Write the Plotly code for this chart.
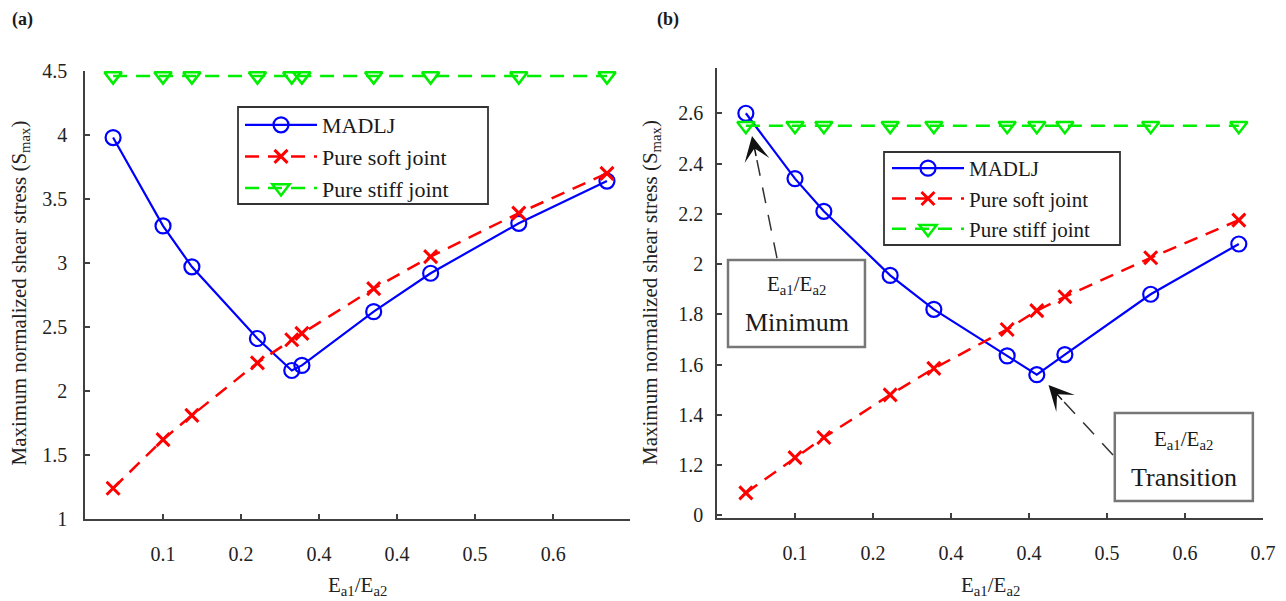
import plotly.graph_objects as go

FONT = "Liberation Serif"

# ---------------- data: panel (a) ----------------
x_a = [0.036, 0.100, 0.137, 0.221, 0.265, 0.278, 0.370, 0.443, 0.556, 0.669]
madlj_a = [3.98, 3.29, 2.97, 2.41, 2.16, 2.20, 2.62, 2.92, 3.31, 3.64]
soft_a = [1.24, 1.62, 1.81, 2.22, 2.40, 2.45, 2.80, 3.05, 3.39, 3.70]
stiff_a = [4.46, 4.46, 4.46, 4.46, 4.46, 4.46, 4.46, 4.46, 4.46, 4.46]

# ---------------- data: panel (b) ----------------
x_b = [0.037, 0.100, 0.137, 0.222, 0.278, 0.372, 0.410, 0.446, 0.556, 0.669]
madlj_b = [2.60, 2.34, 2.21, 1.955, 1.82, 1.635, 1.56, 1.64, 1.88, 2.08]
soft_b = [1.09, 1.23, 1.31, 1.48, 1.585, 1.74, 1.815, 1.87, 2.025, 2.175]
stiff_b = [2.55, 2.55, 2.55, 2.55, 2.55, 2.55, 2.55, 2.55, 2.55, 2.55]

series_names = ["MADLJ", "Pure soft joint", "Pure stiff joint"]

# ---------------- tick labels (as printed in the figure) ----------------
xtick_vals_a = [0.1, 0.2, 0.3, 0.4, 0.5, 0.6]
xtick_text_a = ["0.1", "0.2", "0.4", "0.4", "0.5", "0.6"]
xtick_vals_b = [0.1, 0.2, 0.3, 0.4, 0.5, 0.6, 0.7]
xtick_text_b = ["0.1", "0.2", "0.4", "0.4", "0.5", "0.6", "0.7"]
ytick_vals_a = [1, 1.5, 2, 2.5, 3, 3.5, 4, 4.5]
ytick_text_a = ["1", "1.5", "2", "2.5", "3", "3.5", "4", "4.5"]
ytick_vals_b = [1.0, 1.2, 1.4, 1.6, 1.8, 2.0, 2.2, 2.4, 2.6]
ytick_text_b = ["0", "1.2", "1.4", "1.6", "1.8", "2", "2.2", "2.4", "2.6"]

BLUE = "#0000FF"
RED = "#FF0000"
GREEN = "#00EE00"

fig = go.Figure()


def add_panel(x, madlj, soft, stiff, xref, yref, legend):
    fig.add_trace(go.Scatter(
        x=x, y=madlj, name=series_names[0], mode="lines+markers",
        xaxis=xref, yaxis=yref, legend=legend, cliponaxis=False,
        line=dict(color=BLUE, width=2.2),
        marker=dict(symbol="circle-open", size=15, color=BLUE, line=dict(width=2.2, color=BLUE)),
    ))
    fig.add_trace(go.Scatter(
        x=x, y=soft, name=series_names[1], mode="lines+markers",
        xaxis=xref, yaxis=yref, legend=legend, cliponaxis=False,
        line=dict(color=RED, width=2.5, dash="14px,9px"),
        marker=dict(symbol="x-thin", size=13, color=RED, line=dict(width=3, color=RED)),
    ))
    fig.add_trace(go.Scatter(
        x=x, y=stiff, name=series_names[2], mode="lines+markers",
        xaxis=xref, yaxis=yref, legend=legend, cliponaxis=False,
        line=dict(color=GREEN, width=2.5, dash="14px,9px"),
        marker=dict(symbol="triangle-down-open", size=15, color=GREEN, line=dict(width=2.5, color=GREEN)),
    ))


add_panel(x_a, madlj_a, soft_a, stiff_a, "x", "y", "legend")
add_panel(x_b, madlj_b, soft_b, stiff_b, "x2", "y2", "legend2")

W, H = 1286, 601
axis_line = "#404040"
tickfont = dict(family=FONT, size=20, color="#222222")
common = dict(showline=True, linecolor=axis_line, linewidth=1.5, ticks="inside",
              ticklen=5, tickwidth=1.5, tickcolor=axis_line, showgrid=False,
              zeroline=False, tickfont=tickfont, mirror=False, automargin=False)

legend_common = dict(xanchor="left", yanchor="top", borderwidth=0,
                     bgcolor="rgba(0,0,0,0)", itemwidth=72, tracegroupgap=0)

fig.update_layout(
    width=W, height=H, autosize=False,
    font=dict(family=FONT),
    margin=dict(l=0, r=0, t=0, b=0, pad=0),
    paper_bgcolor="white", plot_bgcolor="white",
    showlegend=True,
    xaxis=dict(domain=[85 / W, 629.6 / W], range=[0, 0.698], anchor="y",
               tickvals=xtick_vals_a, ticktext=xtick_text_a, ticklabelstandoff=16, **common),
    yaxis=dict(domain=[1 - 519 / H, 1 - 71 / H], range=[1, 4.5], anchor="x",
               tickvals=ytick_vals_a, ticktext=ytick_text_a, ticklabelstandoff=12, **common),
    xaxis2=dict(domain=[717 / W, 1263 / W], range=[0, 0.7], anchor="y2",
                tickvals=xtick_vals_b, ticktext=xtick_text_b, ticklabelstandoff=16, **common),
    yaxis2=dict(domain=[1 - 518 / H, 1 - 68 / H], range=[0.99, 2.78], anchor="x2",
                tickvals=ytick_vals_b, ticktext=ytick_text_b, ticklabelstandoff=8, **common),
    legend=dict(x=240 / W, y=1 - 104 / H, font=dict(family=FONT, size=22, color="#1a1a1a"),
                **legend_common),
    legend2=dict(x=887 / W, y=1 - 148 / H, font=dict(family=FONT, size=21, color="#1a1a1a"),
                 **legend_common),
)

ann = []
# panel labels
ann.append(dict(text="<b>(a)</b>", x=10 / W, y=1 - 20 / H, xref="paper", yref="paper",
                xanchor="left", yanchor="middle", showarrow=False,
                font=dict(family=FONT, size=18, color="#1a1a1a")))
ann.append(dict(text="<b>(b)</b>", x=655 / W, y=1 - 20 / H, xref="paper", yref="paper",
                xanchor="left", yanchor="middle", showarrow=False,
                font=dict(family=FONT, size=18, color="#1a1a1a")))
# axis titles
title_font = dict(family=FONT, size=21, color="#222222")
xtitle = "E<sub>a1</sub>/E<sub>a2</sub>"
ytitle = "Maximum normalized shear stress (S<sub>max</sub>)"
ann.append(dict(text=xtitle, x=357 / W, y=1 - 586 / H, xref="paper", yref="paper",
                xanchor="center", yanchor="middle", showarrow=False, font=title_font))
ann.append(dict(text=xtitle, x=990 / W, y=1 - 586 / H, xref="paper", yref="paper",
                xanchor="center", yanchor="middle", showarrow=False, font=title_font))
ann.append(dict(text=ytitle, x=19.5 / W, y=1 - 293 / H, xref="paper", yref="paper",
                xanchor="center", yanchor="middle", textangle=-90, showarrow=False, font=title_font))
ann.append(dict(text=ytitle, x=651 / W, y=1 - 293 / H, xref="paper", yref="paper",
                xanchor="center", yanchor="middle", textangle=-90, showarrow=False, font=title_font))

# callout boxes in panel (b)
box_font_small = dict(family=FONT, size=21, color="#1a1a1a")
box_font_big = dict(family=FONT, size=26, color="#1a1a1a")
ann.append(dict(text=xtitle, x=0.102, y=1.917, xref="x2", yref="y2", showarrow=False,
                xanchor="center", yanchor="middle", font=box_font_small))
ann.append(dict(text="Minimum", x=0.102, y=1.769, xref="x2", yref="y2", showarrow=False,
                xanchor="center", yanchor="middle", font=box_font_big))
ann.append(dict(text=xtitle, x=0.5987, y=1.30, xref="x2", yref="y2", showarrow=False,
                xanchor="center", yanchor="middle", font=box_font_small))
ann.append(dict(text="Transition", x=0.5987, y=1.153, xref="x2", yref="y2", showarrow=False,
                xanchor="center", yanchor="middle", font=box_font_big))
# arrow heads
ann.append(dict(text="", x=0.0449, y=2.51, ax=0.0505, ay=2.424, xref="x2", yref="y2",
                axref="x2", ayref="y2", showarrow=True, arrowhead=3, arrowsize=2.8,
                arrowwidth=1.5, arrowcolor="#111111", standoff=0))
ann.append(dict(text="", x=0.425, y=1.519, ax=0.4441, ay=1.4547, xref="x2", yref="y2",
                axref="x2", ayref="y2", showarrow=True, arrowhead=3, arrowsize=2.8,
                arrowwidth=1.5, arrowcolor="#111111", standoff=0))
fig.update_layout(annotations=ann)

shapes = [
    # legend frames
    dict(type="rect", xref="paper", yref="paper", x0=238 / W, x1=488 / W,
         y0=1 - 204 / H, y1=1 - 107 / H, line=dict(color="#333333", width=1.8),
         fillcolor="white", layer="above"),
    dict(type="rect", xref="paper", yref="paper", x0=884 / W, x1=1120 / W,
         y0=1 - 245 / H, y1=1 - 152 / H, line=dict(color="#333333", width=1.8),
         fillcolor="white", layer="above"),
    # callout boxes
    dict(type="rect", xref="x2", yref="y2", x0=0.0141, x1=0.1897, y0=1.670, y1=2.016,
         line=dict(color="#777777", width=2.5), fillcolor="white", layer="above"),
    dict(type="rect", xref="x2", yref="y2", x0=0.510, x1=0.687, y0=1.058, y1=1.408,
         line=dict(color="#777777", width=2.5), fillcolor="white", layer="above"),
    # dashed arrow shafts
    dict(type="line", xref="x2", yref="y2", x0=0.0769, y0=2.024, x1=0.0505, y1=2.424,
         line=dict(color="#333333", width=1.5, dash="16px,12px")),
    dict(type="line", xref="x2", yref="y2", x0=0.5077, y0=1.241, x1=0.4441, y1=1.4547,
         line=dict(color="#333333", width=1.5, dash="16px,12px")),
]
fig.update_layout(shapes=shapes)

fig.write_html("out.html")
